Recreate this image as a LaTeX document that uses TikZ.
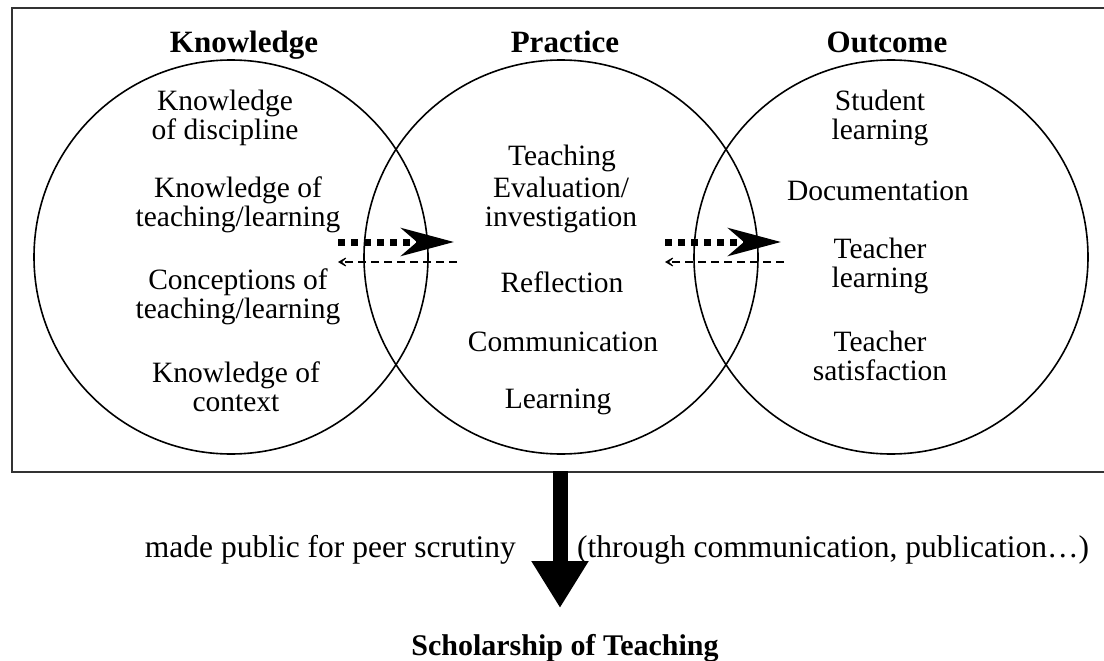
\documentclass[tikz,border=0pt]{standalone}
\usepackage{fontspec}
\setmainfont{Liberation Serif}
\usetikzlibrary{arrows.meta}
\tikzset{
  txt/.style={font=\fontsize{29.5}{29.5}\selectfont, align=center, inner sep=0pt},
  btxt/.style={font=\fontsize{31.5}{31.5}\selectfont, inner sep=0pt},
  head/.style={font=\fontsize{31}{31}\selectfont\bfseries, inner sep=0pt, anchor=base},
  circ/.style={draw, line width=1.6pt, circle, minimum size=394pt, inner sep=0pt},
  fwd/.style={line width=7pt, dash pattern=on 7pt off 6pt,
    -{Stealth[length=53pt, width=28pt, inset=16pt]}},
  back/.style={line width=1.4pt, dash pattern=on 8pt off 5pt,
    -{Stealth[length=12pt, width=14pt, inset=8pt]}},
  down/.style={line width=15pt, -{Triangle[length=47pt, width=54pt]}}
}
\begin{document}
\begin{tikzpicture}[x=1pt, y=-1pt]
\useasboundingbox (0,0) rectangle (1104,661);
\clip (0,0) rectangle (1104,661);
\fill[white] (0,0) rectangle (1104,661);
% frame
\draw[line width=2.4pt, black!80] (12,8) rectangle (1115,472);
% circles
\node[circ] (cK) at (231,257) {};
\node[circ] (cP) at (561,257) {};
\node[circ] (cO) at (891,257) {};
% headings
\node[head] (hK) at (244,53) {Knowledge};
\node[head] (hP) at (565,53) {Practice};
\node[head] (hO) at (887,53) {Outcome};
% knowledge texts
\node[txt] (k1) at (225,118) {Knowledge\\of discipline};
\node[txt] (k2) at (238,205) {Knowledge of\\teaching/learning};
\node[txt] (k3) at (238,297) {Conceptions of\\teaching/learning};
\node[txt] (k4) at (236,387) {Knowledge of\\context};
% practice texts
\node[txt] (p1) at (562,158) {Teaching};
\node[txt] (p2) at (561,205) {Evaluation/\\investigation};
\node[txt] (p3) at (562,282) {Reflection};
\node[txt] (p4) at (563,342) {Communication};
\node[txt] (p5) at (558,402) {Learning};
% outcome texts
\node[txt] (o1) at (880,118) {Student\\learning};
\node[txt] (o2) at (878,191) {Documentation};
\node[txt] (o3) at (880,266) {Teacher\\learning};
\node[txt] (o4) at (880,356) {Teacher\\satisfaction};
% arrows between circles
\coordinate (a1s) at (338,242);
\coordinate (a1e) at (454,242);
\coordinate (b1s) at (457,262);
\coordinate (b1e) at (338,262);
\coordinate (a2s) at (665,242);
\coordinate (a2e) at (781,242);
\coordinate (b2s) at (784,262);
\coordinate (b2e) at (665,262);
\draw[fwd] (a1s) -- (a1e);
\draw[back] (b1s) -- (b1e);
\draw[fwd] (a2s) -- (a2e);
\draw[back] (b2s) -- (b2e);
% bottom
\coordinate (dtop) at (560,471);
\coordinate (dtip) at (560,608);
\draw[down] (dtop) -- (dtip);
\node[btxt, anchor=east] (mp) at (516,550) {made public for peer scrutiny};
\node[btxt, anchor=west] (tc) at (577,550) {(through communication, publication\ldots)};
\node[head, font=\fontsize{30}{30}\selectfont\bfseries] (sot) at (565,655) {Scholarship of Teaching};
\end{tikzpicture}
\end{document}
